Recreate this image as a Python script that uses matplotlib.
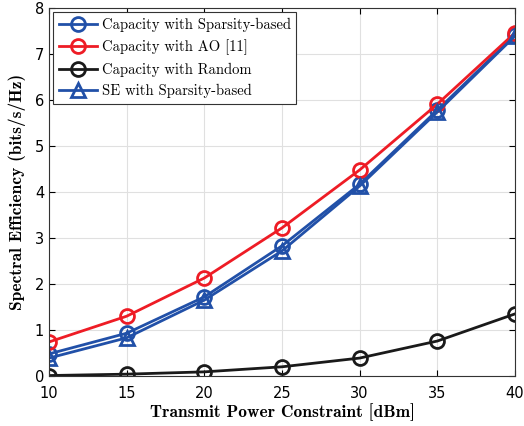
import matplotlib
matplotlib.use("Agg")
import matplotlib.pyplot as plt

power = [10, 15, 20, 25, 30, 35, 40]
cap_sparsity = [0.48, 0.93, 1.72, 2.83, 4.17, 5.78, 7.41]
cap_ao = [0.74, 1.30, 2.13, 3.22, 4.48, 5.91, 7.46]
cap_random = [0.01, 0.04, 0.09, 0.20, 0.39, 0.76, 1.35]
se_sparsity = [0.39, 0.83, 1.65, 2.72, 4.13, 5.74, 7.39]

blue = '#2150a8'
red = '#ee1c25'
black = '#1a1a1a'

fig = plt.figure(figsize=(5.24, 4.26), dpi=100)
ax = fig.add_axes([49/524, 50/426, 466/524, 368/426])

kw = dict(lw=2, ms=10, mfc='none', mew=2)
ax.plot(power, cap_sparsity, '-o', color=blue, label='Capacity with Sparsity-based', **kw)
ax.plot(power, cap_ao, '-o', color=red, label='Capacity with AO [11]', **kw)
ax.plot(power, cap_random, '-o', color=black, label='Capacity with Random', **kw)
ax.plot(power, se_sparsity, '-^', color=blue, label='SE with Sparsity-based', **kw)

ax.set_xlim(10, 40)
ax.set_ylim(0, 8)
ax.set_xticks(power)
ax.set_yticks(range(9))
ax.grid(True, color='#e0e0e0', lw=0.8)
ax.set_axisbelow(True)
ax.tick_params(direction='in', labelsize=10.5, top=True, right=True, length=4)
ax.tick_params(axis='x', pad=7)
for s in ax.spines.values():
    s.set_color('#333333')
    s.set_linewidth(0.8)

ax.set_xlabel('Transmit Power Constraint [dBm]', fontsize=12.5, family='cmb10', labelpad=2)
ax.set_ylabel('Spectral Efficiency (bits/s/Hz)', fontsize=12.5, family='cmb10', labelpad=6)

leg = ax.legend(loc='upper left', prop={'family': 'cmr10', 'size': 10.5},
                fancybox=False, edgecolor='#333333', framealpha=1,
                borderaxespad=0.3, handlelength=2.6, labelspacing=0.5,
                borderpad=0.4, handletextpad=0.3)
leg.get_frame().set_linewidth(0.8)

fig.savefig('out.png', dpi=100)
